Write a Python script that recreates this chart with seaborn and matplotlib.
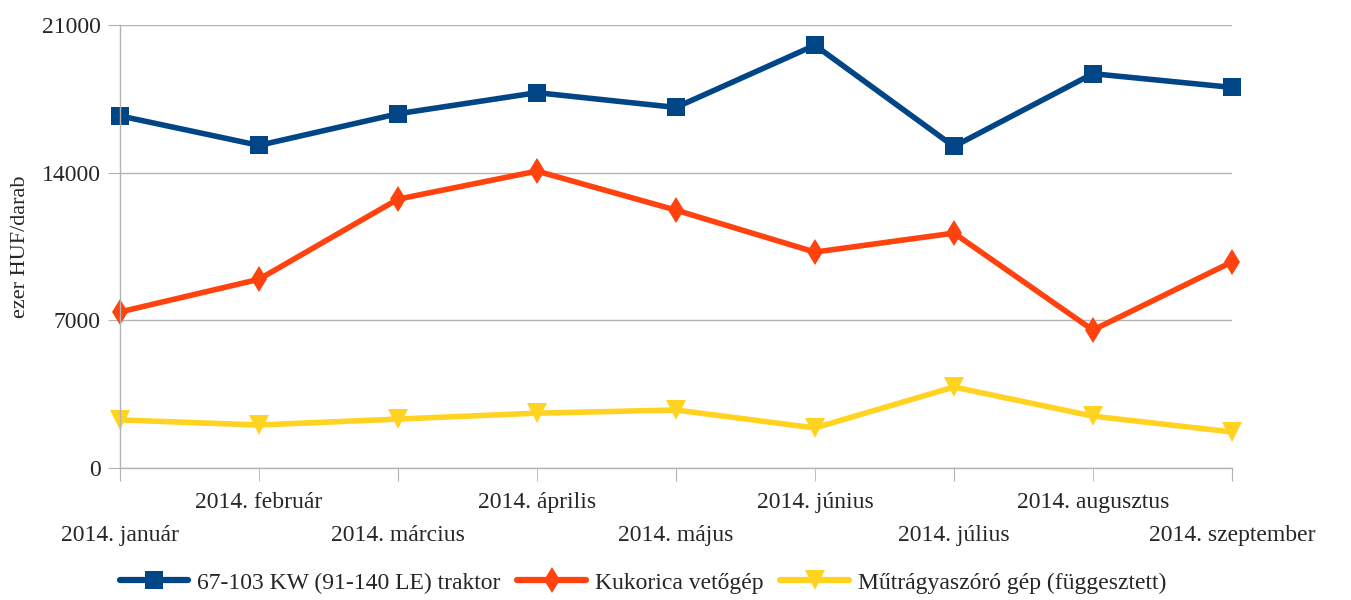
import pandas as pd
import matplotlib
matplotlib.use('Agg')
import matplotlib.pyplot as plt
import seaborn as sns

months = ['2014. január', '2014. február', '2014. március', '2014. április', '2014. május',
          '2014. június', '2014. július', '2014. augusztus', '2014. szeptember']
series = ['67-103 KW (91-140 LE) traktor', 'Kukorica vetőgép', 'Műtrágyaszóró gép (függesztett)']
traktor = [16700, 15300, 16800, 17800, 17100, 20050, 15250, 18700, 18050]
vetogep = [7400, 8950, 12750, 14080, 12230, 10240, 11140, 6540, 9770]
mutragya = [2280, 2040, 2320, 2600, 2750, 1900, 3840, 2460, 1710]

df = pd.DataFrame({
    'x': list(range(len(months))) * 3,
    'value': traktor + vetogep + mutragya,
    'series': [series[0]] * 9 + [series[1]] * 9 + [series[2]] * 9,
})

sns.set_style('white')
plt.rcParams['font.family'] = ['Liberation Serif', 'DejaVu Serif']

fig = plt.figure(figsize=(13.51, 6), dpi=100)
ax = fig.add_axes([0.0888, 0.22, 0.823, 0.738])

palette = ['#004586', '#ff420e', '#ffd320']
sns.lineplot(data=df, x='x', y='value', hue='series', style='series', palette=palette,
             markers=['s', 'd', 'v'], dashes=False, linewidth=4, markersize=13,
             markeredgewidth=0, ax=ax, legend=True)

# per-series marker sizes like the original
sizes = [13, 13, 15]
for line, ms in zip(ax.lines[:3], sizes):
    line.set_markersize(ms)
    line.set_clip_on(False)

ax.set_xlim(0, 8)
ax.set_ylim(0, 21000)
ax.set_yticks([0, 7000, 14000, 21000])

# staggered month labels: even months on the lower row, odd ones on the upper row
ax.set_xticks(range(0, 9, 2))
ax.set_xticklabels(months[0::2], fontsize=17)
ax.set_xticks(range(1, 9, 2), minor=True)
ax.set_xticklabels(months[1::2], fontsize=17, minor=True)
ax.tick_params(axis='x', which='major', length=9, color='#b3b3b3', pad=32, bottom=True)
ax.tick_params(axis='x', which='minor', length=9, color='#b3b3b3', pad=8, bottom=True)
ax.tick_params(axis='y', labelsize=17, length=9, color='#b3b3b3', pad=5, left=True)
ax.yaxis.grid(True, color='#b3b3b3', linewidth=1)
ax.xaxis.grid(False)
for s in ['top', 'right']:
    ax.spines[s].set_visible(False)
for s in ['left', 'bottom']:
    ax.spines[s].set_color('#b3b3b3')
    ax.spines[s].set_linewidth(1)
ax.set_xlabel('')
ax.set_ylabel('ezer HUF/darab', fontsize=16, labelpad=8)

handles, lbls = ax.get_legend_handles_labels()
ax.get_legend().remove()
for h, ms in zip(handles, sizes):
    h.set_markersize(ms)
    h.set_linewidth(4.5)
fig.legend(handles, lbls, loc='lower center', ncol=3, frameon=False, fontsize=17,
           bbox_to_anchor=(0.476, -0.025), handlelength=2.9, columnspacing=0.7, handletextpad=0.4)

fig.savefig('out.png', dpi=100)
